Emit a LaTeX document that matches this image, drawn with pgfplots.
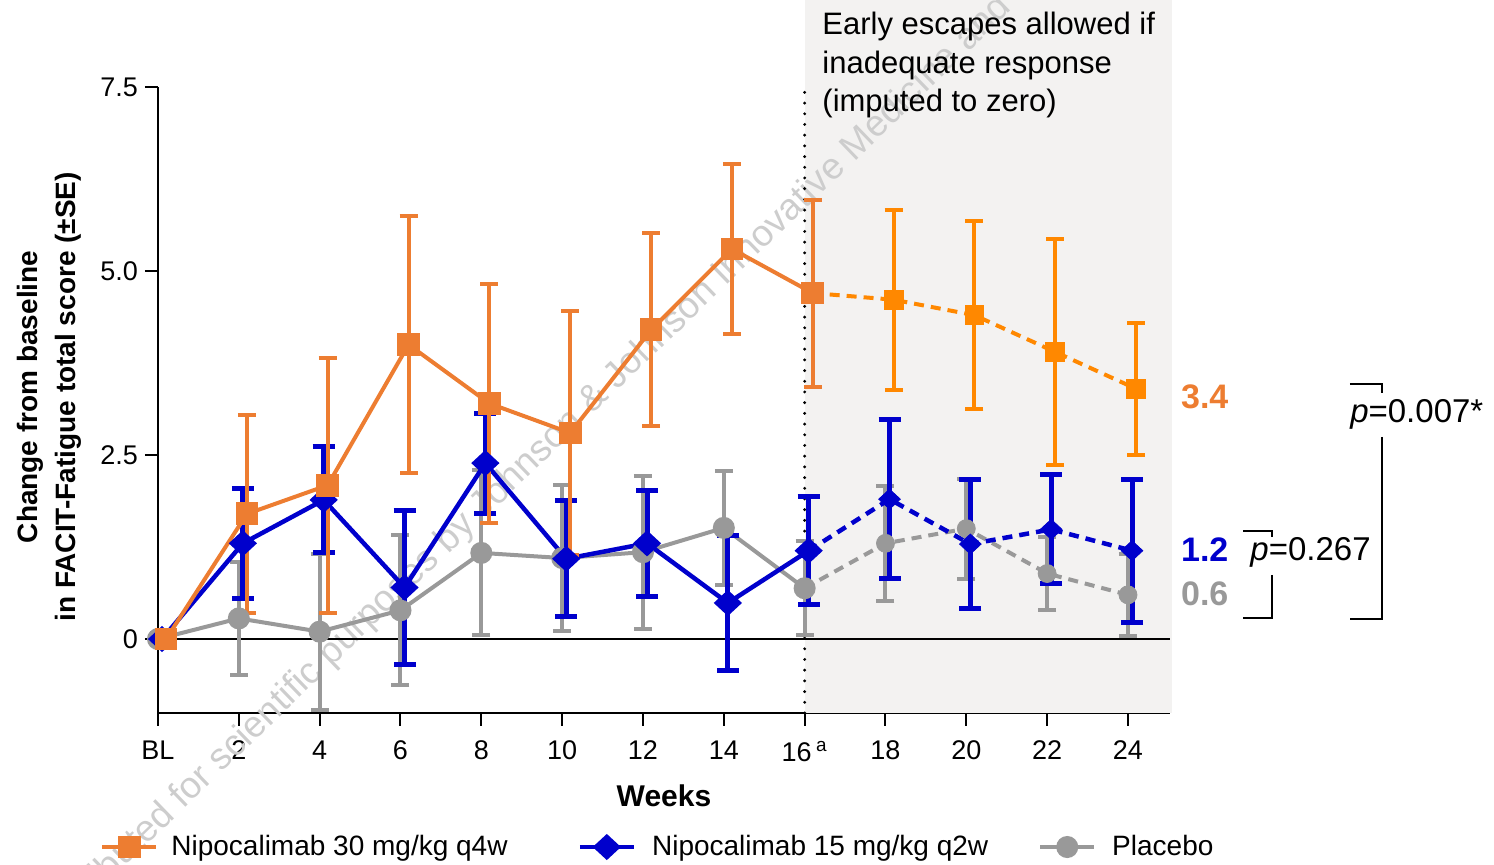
\documentclass[border=0pt]{standalone}
\usepackage{fontspec}
\setmainfont{Liberation Sans}
\usepackage{pgfplots}
\usepackage{pgfplotstable}
\pgfplotsset{compat=1.18}
\definecolor{orA}{RGB}{237,125,49}
\definecolor{orB}{RGB}{255,136,0}
\definecolor{bl}{RGB}{0,0,204}
\definecolor{gr}{RGB}{153,153,153}
\definecolor{escfill}{RGB}{243,242,241}
\definecolor{wmark}{RGB}{205,205,205}

% week (offset so the series do not overlap), mean change, SE
\pgfplotstableread{
x y e
0.2 0 0
2.2 1.70 1.35
4.2 2.09 1.73
6.2 4.00 1.75
8.2 3.20 1.62
10.2 2.80 1.66
12.2 4.20 1.31
14.2 5.30 1.15
16.2 4.70 1.27
18.2 4.61 1.22
20.2 4.40 1.28
22.2 3.90 1.53
24.2 3.40 0.90
}\nipohigh
\pgfplotstableread{
x y e
0.1 0 0
2.1 1.30 0.75
4.1 1.89 0.72
6.1 0.70 1.04
8.1 2.39 0.68
10.1 1.09 0.79
12.1 1.30 0.72
14.1 0.49 0.92
16.1 1.20 0.73
18.1 1.90 1.08
20.1 1.29 0.88
22.1 1.49 0.74
24.1 1.20 0.97
}\nipolow
\pgfplotstableread{
x y e
0 0 0
2 0.28 0.77
4 0.10 1.06
6 0.39 1.02
8 1.17 1.12
10 1.10 0.99
12 1.18 1.04
14 1.51 0.77
16 0.69 0.64
18 1.30 0.78
20 1.50 0.68
22 0.89 0.50
24 0.60 0.56
}\placebo

\begin{document}
\begin{tikzpicture}
\useasboundingbox (-79pt,-76pt) rectangle (668pt,356.5pt);
\begin{axis}[
  scale only axis,
  width=506pt, height=313pt,
  xmin=0, xmax=25.04, ymin=-1.005, ymax=7.5,
  axis x line=bottom, axis y line=left,
  axis line style={-, line width=1pt, black},
  tick align=outside, major tick length=6.5pt,
  tick style={line width=1pt, black},
  xtick={0,2,...,24},
  xticklabels={BL,2,4,6,8,10,12,14,16\,\textsuperscript{a},18,20,22,24},
  ytick={0,2.5,5,7.5},
  yticklabels={0,2.5,5.0,7.5},
  ticklabel style={font=\fontsize{13.5}{16}\selectfont},
  xticklabel style={yshift=-4pt},
  /pgf/number format/assume math mode=true,
  xlabel={Weeks},
  xlabel style={at={(axis description cs:0.5,-0.1326)}, anchor=center,
    font=\bfseries\fontsize{15}{18}\selectfont},
  ylabel={Change from baseline\\in FACIT-Fatigue total score (±SE)},
  ylabel style={at={(axis description cs:-0.1077,0.505)}, anchor=center,
    align=center, font=\bfseries\fontsize{14}{19}\selectfont},
  clip=false,
  legend columns=3,
  legend style={at={(axis description cs:-0.0573,-0.2141)}, anchor=west,
    draw=none, fill=none, inner sep=0pt,
    font=\fontsize{14}{16}\selectfont,
    /tikz/column 1/.style={column sep=4.5pt},
    /tikz/column 2/.style={column sep=33pt},
    /tikz/column 3/.style={column sep=6pt},
    /tikz/column 4/.style={column sep=23pt},
    /tikz/column 5/.style={column sep=6pt}},
  legend image code/.code={\draw[mark repeat=2,mark phase=2,#1]
    plot coordinates {(0pt,0pt)(13.5pt,0pt)(27pt,0pt)};},
]
% escape period shading
\fill[escfill] (axis cs:16.01,-1.005) rectangle (axis cs:25.09,8.69);
% watermark
\node[rotate=44, anchor=base east, text=wmark, inner sep=0pt,
  font=\fontsize{18.5}{22}\selectfont] at (axis cs:10.74,3.04)
  {Distributed for scientific purposes by Johnson\hspace*{5.1pt}};
\node[rotate=44, anchor=base west, text=wmark, inner sep=0pt,
  font=\fontsize{18.5}{22}\selectfont] at (axis cs:10.74,3.04)
  {\& Johnson Innovative Medicine and};
\draw[black, line width=0.85pt] (axis cs:0,0) -- (axis cs:25.04,0);
\draw[black, line width=1.6pt, line cap=round, dash pattern=on 0pt off 5.35pt]
  (axis cs:16,-1.005) -- (axis cs:16,7.5);

\addlegendimage{orA, line width=2pt, mark=square*, mark size=4.7pt}
\addlegendentry{Nipocalimab 30 mg/kg q4w}
\addlegendimage{bl, line width=2.25pt, mark=diamond*, mark size=5pt, mark options={xscale=1.44}}
\addlegendentry{Nipocalimab 15 mg/kg q2w}
\addlegendimage{gr, line width=2pt, mark=*, mark size=4.5pt}
\addlegendentry{Placebo}

% placebo
\addplot[forget plot, gr, line width=2pt, dash pattern=on 5pt off 3.5pt,
  restrict x to domain=15.5:25] table[x=x, y=y] {\placebo};
\addplot[forget plot, gr, line width=2pt, mark=*, mark size=4.5pt,
  restrict x to domain=-1:16.5,
  error bars/.cd, y dir=both, y explicit,
  error bar style={line width=2pt, gr},
  error mark options={rotate=90, mark size=4.5pt, line width=2pt, gr}]
  table[x=x, y=y, y error=e] {\placebo};
\addplot[forget plot, gr, only marks, mark=*, mark size=4.5pt,
  restrict x to domain=17:25,
  error bars/.cd, y dir=both, y explicit,
  error bar style={line width=2pt, gr},
  error mark options={rotate=90, mark size=4.5pt, line width=2pt, gr}]
  table[x=x, y=y, y error=e] {\placebo};

% nipocalimab 15 mg/kg
\addplot[forget plot, bl, line width=2.25pt, dash pattern=on 5pt off 3.5pt,
  restrict x to domain=15.5:25] table[x=x, y=y] {\nipolow};
\addplot[forget plot, bl, line width=2.25pt, mark=diamond*, mark size=5pt,
  mark options={xscale=1.44},
  restrict x to domain=-1:16.5,
  error bars/.cd, y dir=both, y explicit,
  error bar style={line width=2.5pt, bl},
  error mark options={rotate=90, mark size=5.5pt, line width=2.5pt, bl}]
  table[x=x, y=y, y error=e] {\nipolow};
\addplot[forget plot, bl, only marks, mark=diamond*, mark size=5pt,
  mark options={xscale=1.44},
  restrict x to domain=17:25,
  error bars/.cd, y dir=both, y explicit,
  error bar style={line width=2.5pt, bl},
  error mark options={rotate=90, mark size=5.5pt, line width=2.5pt, bl}]
  table[x=x, y=y, y error=e] {\nipolow};

% nipocalimab 30 mg/kg
\addplot[forget plot, orB, line width=2pt, dash pattern=on 5pt off 3.5pt,
  restrict x to domain=15.5:25] table[x=x, y=y] {\nipohigh};
\addplot[forget plot, orA, line width=2pt, mark=square*, mark size=4.7pt,
  restrict x to domain=-1:16.5,
  error bars/.cd, y dir=both, y explicit,
  error bar style={line width=2pt, orA},
  error mark options={rotate=90, mark size=4.5pt, line width=2pt, orA}]
  table[x=x, y=y, y error=e] {\nipohigh};
\addplot[forget plot, orB, only marks, mark=square*, mark size=4.7pt,
  restrict x to domain=17:25,
  error bars/.cd, y dir=both, y explicit,
  error bar style={line width=2pt, orB},
  error mark options={rotate=90, mark size=4.5pt, line width=2pt, orB}]
  table[x=x, y=y, y error=e] {\nipohigh};

% annotations
\node[anchor=west, align=left, inner sep=0pt,
  font=\fontsize{15.5}{19.25}\selectfont] at (axis cs:16.43,7.795)
  {Early escapes allowed if\\inadequate response\\(imputed to zero)};
\node[text=orA, font=\bfseries\fontsize{17}{20}\selectfont] at (axis cs:25.9,3.29) {3.4};
\node[text=bl, font=\bfseries\fontsize{17}{20}\selectfont] at (axis cs:25.9,1.22) {1.2};
\node[text=gr, font=\bfseries\fontsize{17}{20}\selectfont] at (axis cs:25.9,0.61) {0.6};
\draw[line width=1pt] (axis cs:26.85,1.467) -- (axis cs:27.56,1.467) -- (axis cs:27.56,1.386);
\draw[line width=1pt] (axis cs:27.56,0.870) -- (axis cs:27.56,0.285) -- (axis cs:26.85,0.285);
\node[anchor=west, inner sep=0pt, font=\fontsize{16.5}{20}\selectfont]
  at (axis cs:27.02,1.18) {\textit{p}=0.267};
\draw[line width=1pt] (axis cs:29.49,3.465) -- (axis cs:30.28,3.465) -- (axis cs:30.28,3.342);
\draw[line width=1pt] (axis cs:30.28,2.745) -- (axis cs:30.28,0.272) -- (axis cs:29.49,0.272);
\node[anchor=west, inner sep=0pt, font=\fontsize{16.5}{20}\selectfont]
  at (axis cs:29.49,3.05) {\textit{p}=0.007*};
\end{axis}
\end{tikzpicture}
\end{document}
